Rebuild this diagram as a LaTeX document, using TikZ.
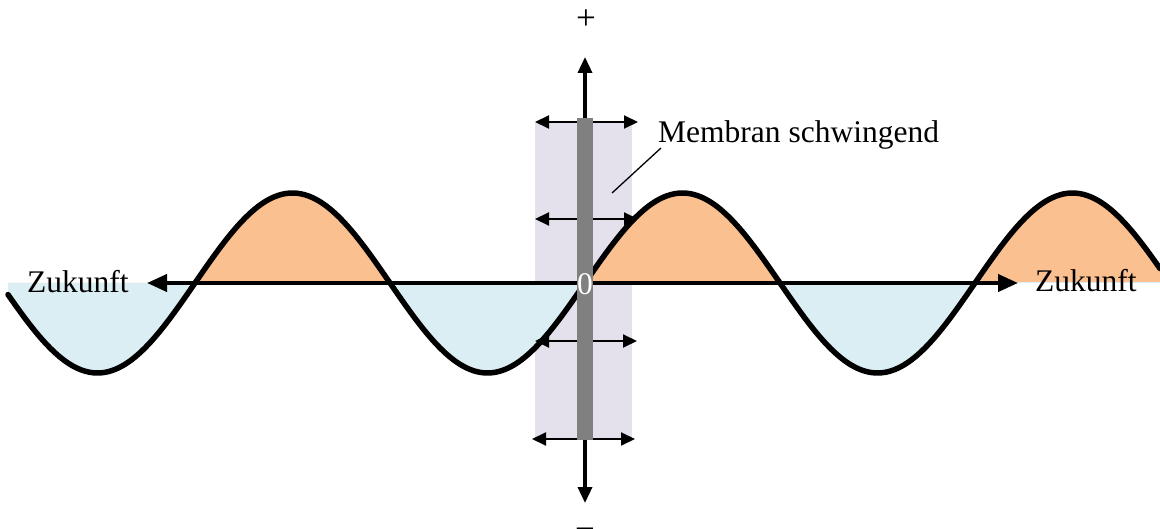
\documentclass[tikz,border=0pt]{standalone}
\usepackage{fontspec}
\setmainfont{Liberation Serif}
\usetikzlibrary{arrows.meta}
\definecolor{posfill}{HTML}{FAC090}
\definecolor{negfill}{HTML}{DAEEF3}
\definecolor{membfill}{HTML}{E4E0EC}
\definecolor{bargray}{HTML}{808080}
\tikzset{
  lbl/.style={inner sep=0pt, font=\fontsize{31.5}{36}\selectfont},
  signlbl/.style={inner sep=0pt, font=\fontsize{35}{40}\selectfont},
  wave/.style={line width=5.5pt, line join=round, line cap=round},
  axisarrow/.style={line width=4pt, {Triangle[length=20pt,width=17pt]}-{Triangle[length=20pt,width=17pt]}},
  vertarrow/.style={line width=3.5pt, -{Triangle[length=16pt,width=14pt]}},
  swingarrow/.style={line width=2pt, {Triangle[length=14pt,width=13pt]}-{Triangle[length=14pt,width=13pt]}},
}
\newcommand{\wavepath}{plot[domain=8:1160, samples=300, smooth] (\x, {283-90*sin(0.9230769*(\x-585))})}
\begin{document}
\begin{tikzpicture}[x=1pt, y=-1pt]
\useasboundingbox (0,0) rectangle (1160,529);
% membrane region
\fill[membfill] (535,123) rectangle (632,438);
% fills
\begin{scope}
  \clip (0,0) rectangle (1160,283);
  \fill[posfill] \wavepath -- (1160,283) -- (8,283) -- cycle;
\end{scope}
\begin{scope}
  \clip (0,283) rectangle (1160,529);
  \fill[negfill] \wavepath -- (1160,283) -- (8,283) -- cycle;
\end{scope}
% wave
\draw[wave] \wavepath;
% coordinates
\coordinate (axL) at (147,283);
\coordinate (axR) at (1018,283);
\coordinate (barT) at (585,118);
\coordinate (barB) at (585,440);
\coordinate (upTip) at (585,57);
\coordinate (dnTip) at (585,503);
\coordinate (a1L) at (535,122); \coordinate (a1R) at (638,122);
\coordinate (a2L) at (535,219); \coordinate (a2R) at (638,219);
\coordinate (a3L) at (535,341); \coordinate (a3R) at (637,341);
\coordinate (a4L) at (532,439); \coordinate (a4R) at (635,439);
% axis
\draw[axisarrow] (axL) -- (axR);
% swing arrows
\draw[swingarrow] (a1L) -- (a1R);
\draw[swingarrow] (a2L) -- (a2R);
\draw[swingarrow] (a3L) -- (a3R);
\draw[swingarrow] (a4L) -- (a4R);
% vertical arrows
\draw[vertarrow] (barT) -- (upTip);
\draw[vertarrow] (barB) -- (dnTip);
% membrane bar
\fill[bargray] (577,118) rectangle (593,440);
% labels
\node[lbl, anchor=base, text=white] (zero) at (585,295) {0};
\node[signlbl, anchor=base] (plus) at (586,30) {+};
\node[signlbl, anchor=base] (minus) at (585,540) {−};
\node[lbl, anchor=base west] (zl) at (27,293) {Zukunft};
\node[lbl, anchor=base west] (zr) at (1035,292) {Zukunft};
\node[lbl, anchor=base west] (memb) at (658,143) {Membran schwingend};
\coordinate (leadA) at (612,193);
\coordinate (leadB) at (661,148);
\draw[line width=1.3pt] (leadA) -- (leadB);
\end{tikzpicture}
\end{document}
